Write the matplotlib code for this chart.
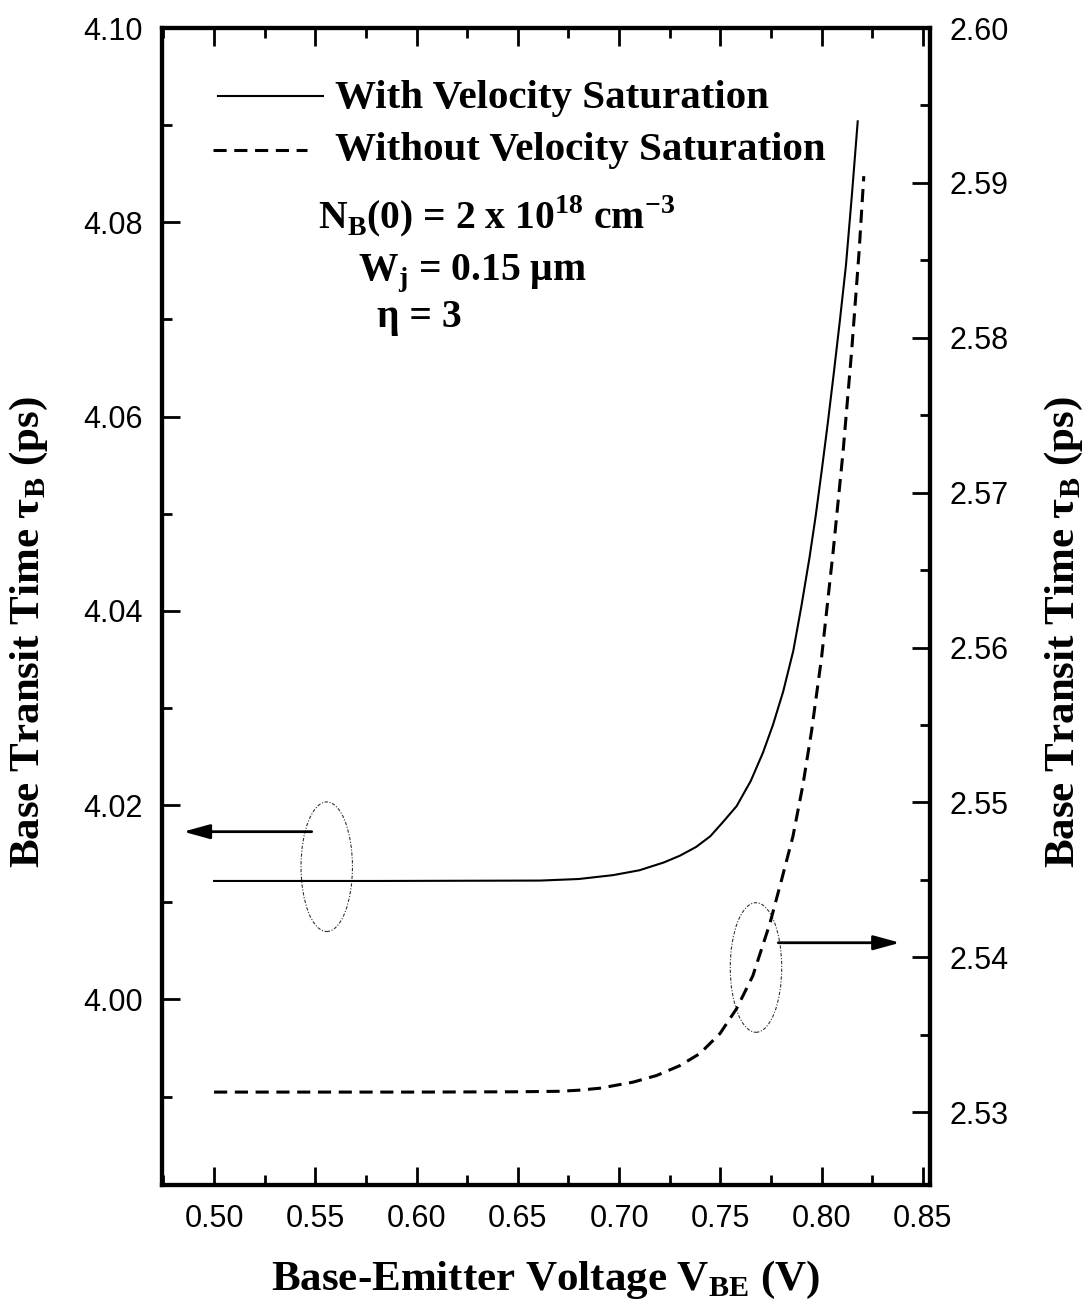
import numpy as np
import matplotlib.pyplot as plt
from matplotlib.ticker import MultipleLocator, FormatStrFormatter
from matplotlib.patches import Ellipse

# values
vbe_with = [0.500, 0.582, 0.661, 0.680, 0.697, 0.710, 0.722, 0.730, 0.738, 0.745,
            0.751, 0.758, 0.765, 0.771, 0.776, 0.781, 0.786, 0.790, 0.794, 0.797,
            0.800, 0.803, 0.806, 0.809, 0.812, 0.815, 0.8178]
tau_with = [4.0122, 4.0122, 4.01224, 4.0124, 4.0128, 4.0133, 4.0141, 4.0148, 4.0157, 4.0168,
            4.0182, 4.0199, 4.0225, 4.0254, 4.0283, 4.0317, 4.0359, 4.0405, 4.0455, 4.0497,
            4.0544, 4.0593, 4.0645, 4.0699, 4.0756, 4.0830, 4.0904]

vbe_without = [0.500, 0.600, 0.650, 0.670, 0.680, 0.6905, 0.7068, 0.7185, 0.730, 0.7399,
               0.7498, 0.758, 0.766, 0.7744, 0.7802, 0.7858, 0.7907, 0.795, 0.7999, 0.8057,
               0.8106, 0.8148, 0.8185, 0.8208]
tau_without = [2.5313, 2.5313, 2.53132, 2.53135, 2.53142, 2.53155, 2.53194, 2.53237, 2.53301, 2.53379,
               2.53508, 2.53669, 2.5388, 2.54217, 2.5450, 2.5478, 2.5511, 2.5546, 2.5593, 2.56624,
               2.57269, 2.57914, 2.5856, 2.59044]

SERIF = "Liberation Serif"
SANS = "Liberation Sans"

plt.rcParams["font.family"] = SANS
plt.rcParams["mathtext.fontset"] = "custom"
plt.rcParams["mathtext.rm"] = SERIF + ":bold"
plt.rcParams["mathtext.bf"] = SERIF + ":bold"

fig = plt.figure(figsize=(10.88, 13.11), dpi=100)
ax = fig.add_axes([0.1489, 0.0961, 0.7059, 0.8825])
ax2 = ax.twinx()

dash = (4.3, 2.5)
ax.plot(vbe_with, tau_with, color="black", lw=1.5)
ax2.plot(vbe_without, tau_without, color="black", lw=2.2, dashes=dash)

ax.set_xlim(0.4743, 0.8535)
ax.set_ylim(3.9809, 4.10)
ax2.set_ylim(2.5253, 2.60)

ax.xaxis.set_major_locator(MultipleLocator(0.05))
ax.xaxis.set_minor_locator(MultipleLocator(0.025))
ax.yaxis.set_major_locator(MultipleLocator(0.02))
ax.yaxis.set_minor_locator(MultipleLocator(0.01))
ax2.yaxis.set_major_locator(MultipleLocator(0.01))
ax2.yaxis.set_minor_locator(MultipleLocator(0.005))
for a in (ax.xaxis, ax.yaxis, ax2.yaxis):
    a.set_major_formatter(FormatStrFormatter("%.2f"))

ax.tick_params(which="both", direction="in", top=True, right=False, width=2)
ax.tick_params(which="major", length=13, labelsize=22, pad=14)
ax.tick_params(which="minor", length=7)
ax2.tick_params(which="both", direction="in", width=2)
ax2.tick_params(which="major", length=13, labelsize=22, pad=14)
ax2.tick_params(which="minor", length=7)

for a in (ax, ax2):
    for s in a.spines.values():
        s.set_linewidth(3)

lab = dict(fontfamily=SERIF, fontweight="bold", fontsize=31)
ax.set_xlabel(r"Base-Emitter Voltage V$_\mathregular{BE}$ (V)", **lab)
ax.xaxis.set_label_coords(0.5, -0.064)
ax.set_ylabel(r"Base Transit Time τ$_\mathregular{B}$ (ps)", **lab)
ax.yaxis.set_label_coords(-0.146, 0.478)
ax2.set_ylabel(r"Base Transit Time τ$_\mathregular{B}$ (ps)", **lab)
ax2.yaxis.set_label_coords(1.147, 0.478)

# legend drawn by hand as in the original
txt = dict(fontfamily=SERIF, fontweight="bold", fontsize=29.5, transform=ax.transAxes)
ax.plot([0.0729, 0.2096], [0.9415, 0.9415], color="black", lw=1.5, transform=ax.transAxes)
ax.text(0.2253, 0.9309, "With Velocity Saturation", va="baseline", **txt)
ax.plot([0.0664, 0.1888], [0.8948, 0.8948], color="black", lw=2.2, dashes=dash,
        transform=ax.transAxes)
ax.text(0.2253, 0.8859, "Without Velocity Saturation", va="baseline", **txt)

txt["fontsize"] = 28.5
ax.text(0.203, 0.8271, r"N$_\mathregular{B}$(0) = 2 x 10$^\mathregular{18}$ cm$^\mathregular{-3}$",
        va="baseline", **txt)
ax.text(0.2552, 0.7822, r"W$_\mathregular{j}$ = 0.15 μm", va="baseline", **txt)
ax.text(0.2799, 0.7416, "η = 3", va="baseline", **txt)

# ellipses and arrows pointing to each axis
for cx, cy in [(0.2145, 0.2751), (0.7734, 0.1880)]:
    ax.add_patch(Ellipse((cx, cy), 0.067, 0.112, transform=ax.transAxes, fill=False,
                         lw=0.8, ls=(0, (3, 1.5, 1, 1.5)), color="#333333"))
arrow = dict(arrowstyle="-|>,head_length=0.8,head_width=0.22", color="black", lw=2,
             mutation_scale=20, shrinkA=0, shrinkB=0)
ax.annotate("", xy=(0.0277, 0.3054), xytext=(0.1949, 0.3054), xycoords="axes fraction",
            arrowprops=arrow)
ax.annotate("", xy=(0.9609, 0.2094), xytext=(0.8025, 0.2094), xycoords="axes fraction",
            arrowprops=arrow)

fig.savefig("out.png", dpi=100)
